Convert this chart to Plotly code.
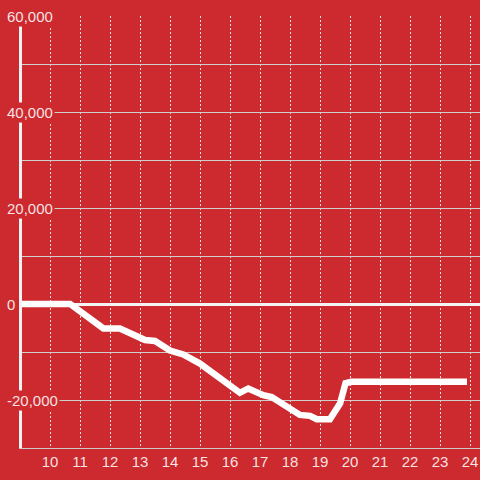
import plotly.graph_objects as go

# values
hours = [9.0, 10.67, 11.78, 12.33, 13.17, 13.5, 14.0, 14.44, 15.0, 15.67,
         16.33, 16.61, 17.11, 17.39, 18.0, 18.33, 18.67, 18.89, 19.33,
         19.67, 19.85, 20.05, 23.9]
balance = [0, 0, -5100, -5100, -7500, -7700, -9700, -10500, -12400, -15500,
           -18500, -17600, -19000, -19400, -21800, -23100, -23300, -24000,
           -24000, -20700, -16500, -16200, -16200]

x_ticks = list(range(10, 25))
y_label_vals = [60000, 40000, 20000, 0, -20000]
y_label_text = ["60,000", "40,000", "20,000", "0", "-20,000"]

BG = "#cc2a2f"
TEXT = "rgba(255,255,255,0.88)"
FONT = "Liberation Sans, Arial, sans-serif"

fig = go.Figure()
fig.add_trace(go.Scatter(
    x=hours, y=balance, mode="lines",
    line=dict(color="white", width=6.5),
    hoverinfo="skip", showlegend=False,
))

# y labels drawn as boxed annotations so they sit over the axis line
for v, t in zip(y_label_vals, y_label_text):
    fig.add_annotation(
        x=-0.037, xref="paper", xanchor="left",
        y=v, yref="y", yanchor="middle",
        text=t, showarrow=False,
        font=dict(family=FONT, size=15, color=TEXT),
        bgcolor=BG, borderpad=1,
    )

fig.update_layout(
    width=480, height=480,
    paper_bgcolor=BG, plot_bgcolor=BG,
    margin=dict(l=22, r=0, t=16, b=32),
    showlegend=False,
    font=dict(family=FONT, size=15, color=TEXT),
)
fig.update_xaxes(
    range=[9.0667, 24.333],
    tickvals=x_ticks, ticks="",
    tickfont=dict(size=15, color=TEXT),
    showgrid=True, gridcolor="rgba(255,255,255,0.85)", gridwidth=1,
    griddash="2px,2px",
    showline=True, linecolor="#c9c9c9", linewidth=1,
    zeroline=False,
)
fig.update_yaxes(
    range=[-30000, 60000], dtick=10000,
    showticklabels=False, ticks="",
    showgrid=True, gridcolor="#cfcfcf", gridwidth=1,
    zeroline=True, zerolinecolor="#f4f4f4", zerolinewidth=3,
    showline=True, linecolor="#f2f2f2", linewidth=3,
)

# drop the default page margin so the 480px figure fills the window
fig.write_html(
    "out.html",
    config={"displayModeBar": False},
    post_script="document.body.style.margin='0';"
                "document.body.style.background='" + BG + "';",
)
